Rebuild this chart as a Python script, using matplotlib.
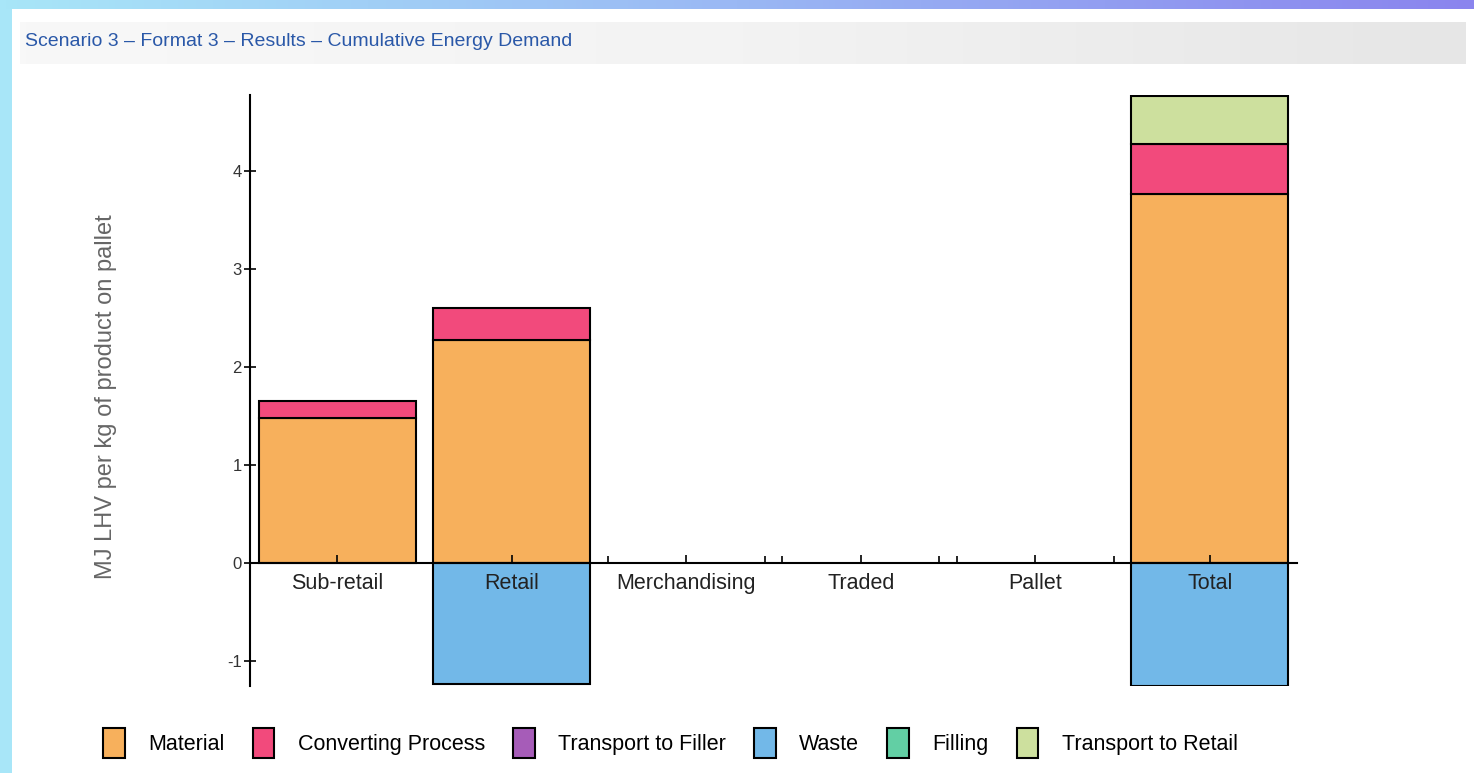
import numpy as np
import matplotlib
matplotlib.use("Agg")
import matplotlib.pyplot as plt
from matplotlib.colors import LinearSegmentedColormap
from matplotlib.patches import Patch

plt.rcParams["font.family"] = ["Liberation Sans", "DejaVu Sans"]
plt.rcParams["axes.unicode_minus"] = False

# values (MJ LHV per kg of product on pallet)
categories = ["Sub-retail", "Retail", "Merchandising", "Traded", "Pallet", "Total"]
material = [1.48, 2.28, 0.0, 0.0, 0.0, 3.77]
converting = [0.18, 0.33, 0.0, 0.0, 0.0, 0.51]
transport_filler = [0.0, 0.0, 0.0, 0.0, 0.0, 0.0]
waste = [0.0, -1.23, 0.0, 0.0, 0.0, -1.25]
filling = [0.0, 0.0, 0.0, 0.0, 0.0, 0.0]
transport_retail = [0.0, 0.0, 0.0, 0.0, 0.0, 0.49]

series = [
    ("Material", material, "#f7b05c"),
    ("Converting Process", converting, "#f24a7c"),
    ("Transport to Filler", transport_filler, "#a65cb8"),
    ("Waste", waste, "#72b8e8"),
    ("Filling", filling, "#62cfa4"),
    ("Transport to Retail", transport_retail, "#cde09e"),
]

W, H = 1474, 773
fig = plt.figure(figsize=(W / 100, H / 100), dpi=100)
fig.patch.set_facecolor("#a8e6f8")

# page frame: white panel, gradient strip on top, grey title bar
bg = fig.add_axes([12 / W, 0, 1 - 12 / W, 1 - 9 / H])
bg.set_facecolor("white")
bg.set_xticks([])
bg.set_yticks([])
for s in bg.spines.values():
    s.set_visible(False)

top = fig.add_axes([0, 1 - 9 / H, 1, 9 / H])
top.imshow(np.linspace(0, 1, 256)[None, :], aspect="auto",
           cmap=LinearSegmentedColormap.from_list("strip", ["#a8e6f8", "#9ab8f4", "#8a84ee"]))
top.axis("off")

bar = fig.add_axes([20 / W, 1 - 64 / H, 1445 / W, 42 / H])
bar.imshow(np.linspace(0, 1, 256)[None, :], aspect="auto",
           cmap=LinearSegmentedColormap.from_list("tbar", ["#f8f8f8", "#f3f3f3", "#e6e6e6"]))
bar.axis("off")
fig.text(25 / W, 1 - 41 / H, "Scenario 3 \u2013 Format 3 \u2013 Results \u2013 Cumulative Energy Demand",
         color="#2a58a8", fontsize=14, va="center", ha="left")

ax = fig.add_axes([250 / W, 1 - 686 / H, 1047 / W, 591 / H])
ax.patch.set_alpha(0)
ax.set_axisbelow(False)

x = np.arange(len(categories))
width = 0.9
pos_base = np.zeros(len(categories))
neg_base = np.zeros(len(categories))
for name, vals, color in series:
    vals = np.array(vals)
    bottoms = np.where(vals >= 0, pos_base, neg_base)
    mask = vals != 0
    ax.bar(x[mask], vals[mask], width, bottom=bottoms[mask], color=color,
           edgecolor="black", linewidth=1.5, zorder=2)
    pos_base += np.where(vals > 0, vals, 0)
    neg_base += np.where(vals < 0, vals, 0)

ax.set_xlim(-0.5, len(categories) - 0.5)
ax.set_ylim(-1.255, 4.78)
ax.spines["top"].set_visible(False)
ax.spines["right"].set_visible(False)
ax.spines["bottom"].set_position(("data", 0))
for s in ("left", "bottom"):
    ax.spines[s].set_linewidth(1.5)

ax.set_xticks(x)
ax.set_xticklabels(categories, fontsize=15.5, color="#222222")
ax.set_xticks(np.concatenate([x - width / 2, x + width / 2]), minor=True)
ax.tick_params(axis="x", which="major", direction="in", length=6, width=1.2, pad=7)
ax.tick_params(axis="x", which="minor", direction="in", length=5, width=1.2)
ax.set_yticks([-1, 0, 1, 2, 3, 4])
ax.tick_params(axis="y", direction="inout", length=8, width=1.2, labelsize=12, pad=2, labelcolor="#333333")

ax.set_ylabel("MJ LHV per kg of product on pallet", fontsize=17, color="#666666")
ax.yaxis.set_label_coords(-0.127, 0.489)

handles = [Patch(facecolor=c, edgecolor="black", linewidth=1.5) for _, _, c in series]
fig.legend(handles, [n for n, _, _ in series], loc="center left",
           bbox_to_anchor=(103 / W, 1 - 743 / H), ncol=6, frameon=False,
           fontsize=15.5, handlelength=1.0, handleheight=1.75, handletextpad=1.1,
           columnspacing=1.3, borderpad=0, borderaxespad=0)

fig.savefig("out.png", dpi=100)
